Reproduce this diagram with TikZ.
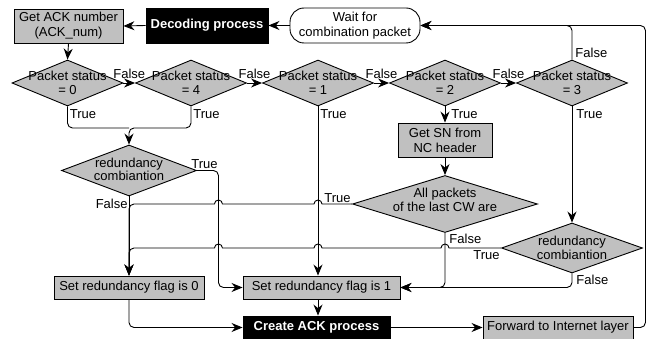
\documentclass[tikz,border=0pt]{standalone}
\usepackage{fontspec}
\setmainfont{Liberation Sans}
\usepackage{tikz}
\usetikzlibrary{arrows.meta}
\usetikzlibrary{positioning,calc}
\usetikzlibrary{shapes.geometric}
\definecolor{boxgray}{RGB}{192,192,192}
\tikzset{
    txt/.style={font=\fontsize{13}{15}\selectfont},
    proc/.style={
        draw,
        fill=boxgray,
        txt,
        align=center,
        inner sep=1pt
    },
    blk/.style={
        draw,
        fill=black,
        text=white,
        font=\fontsize{13}{15}\selectfont\bfseries,
        inner sep=1pt
    },
    term/.style={
        draw,
        rectangle,
        rounded corners=14pt,
        txt,
        align=center,
        inner sep=1pt
    },
    decision/.style={draw, diamond, fill=boxgray, inner sep=0pt},
    dtext/.style={font=\fontsize{13}{13.5}\selectfont, align=center, inner sep=0pt},
    lbl/.style={txt, inner sep=1pt},
    flow/.style={-{Stealth[length=11pt, width=9pt]}}
}

\begin{document}
\begin{tikzpicture}[x=1pt, y=-1pt, line width=0.9pt]
    \useasboundingbox (0,0) rectangle (648,339);
    % Top row
    \node[proc, minimum width=109pt, minimum height=34pt] (getack) at (68.5,26) {Get ACK number\\(ACK\_num)};
    \node[blk, minimum width=122pt, minimum height=35pt] (decode) at (207,25.5) {Decoding process};
    \node[term, minimum width=130pt, minimum height=35pt] (wait) at (355,25.5) {Wait for\\combination packet};

    % Packet status checks
    \node[decision, minimum width=111pt, minimum height=46pt,
        label={[dtext]center:Packet status\\= 0}] (d0) at (67.5,83) {};
    \node[decision, minimum width=111pt, minimum height=46pt,
        label={[dtext]center:Packet status\\= 4}] (d4) at (191,83) {};
    \node[decision, minimum width=111pt, minimum height=46pt,
        label={[dtext]center:Packet status\\= 1}] (d1) at (318,83) {};
    \node[decision, minimum width=111pt, minimum height=46pt,
        label={[dtext]center:Packet status\\= 2}] (d2) at (445,83) {};
    \node[decision, minimum width=111pt, minimum height=46pt,
        label={[dtext]center:Packet status\\= 3}] (d3) at (572,83) {};

    % Middle part
    \node[proc, minimum width=94pt, minimum height=34pt] (sn) at (445,140) {Get SN from\\NC header};
    \node[decision, minimum width=135pt, minimum height=51pt,
        label={[dtext, yshift=1pt]center:redundancy\\combiantion}] (r1) at (129,170.5) {};
    \node[decision, minimum width=185pt, minimum height=57pt,
        label={[dtext, yshift=4pt]center:All packets\\of the last CW are}] (ap) at (445,204) {};
    \node[decision, minimum width=141pt, minimum height=50pt,
        label={[dtext]center:redundancy\\combiantion}] (r2) at (572,248) {};

    % Bottom rows
    \node[proc, minimum width=150pt, minimum height=23pt] (flag0) at (129,287.5) {Set redundancy flag is 0};
    \node[proc, minimum width=157pt, minimum height=23pt] (flag1) at (321.5,287.5) {Set redundancy flag is 1};
    \node[blk, minimum width=147pt, minimum height=23pt] (ack) at (316.5,327.5) {Create ACK process};
    \node[proc, minimum width=150pt, minimum height=23pt] (fwd) at (558,327.5) {Forward to Internet layer};

    \coordinate (merge) at (129,128);
    \coordinate (rtrue) at ($(r1.east)+(21.5,0)$);

    % Top connectors
    \draw[flow] (wait.west) -- (decode.east);
    \draw[flow] (decode.west) -- (getack.east);
    \draw[flow] (getack.south) -- (d0.north);

    % False chain
    \draw[flow] (d0.east) -- node[lbl, above=3pt] {False} (d4.west);
    \draw[flow] (d4.east) -- node[lbl, above=3pt] {False} (d1.west);
    \draw[flow] (d1.east) -- node[lbl, above=3pt] {False} (d2.west);
    \draw[flow] (d2.east) -- node[lbl, above=3pt] {False} (d3.west);
    \draw[flow, rounded corners=5pt] (d3.north) node[lbl, anchor=south west, xshift=2pt] {False} |- (wait.east);
    \draw[flow, rounded corners=5pt] (fwd.east) -- ++(12,0) |- (wait.east);

    % True branches
    \draw[rounded corners=5pt] (d0.south) node[lbl, anchor=north west, xshift=1pt, yshift=-2pt] {True} |- (merge);
    \draw[flow, rounded corners=5pt] (d4.south) node[lbl, anchor=north west, xshift=1pt, yshift=-2pt] {True} |- (merge) -- (r1.north);
    \draw[flow] (d1.south) node[lbl, anchor=north west, xshift=1pt, yshift=-2pt] {True} -- (d1.south |- flag1.north);
    \draw[flow] (d2.south) node[lbl, anchor=north west, xshift=5pt, yshift=-2pt] {True} -- (sn.north);
    \draw[flow] (d3.south) node[lbl, anchor=north west, xshift=3pt, yshift=-2pt] {True} -- (r2.north);
    \draw[flow] (sn.south) -- (ap.north);

    % redundancy combination (left)
    \draw[flow, rounded corners=5pt] (r1.east) node[lbl, anchor=south west, xshift=-7pt] {True} -- (rtrue) |- (flag1.west);
    \draw[flow] (r1.south) node[lbl, anchor=north east, yshift=-1pt] {False} -- (flag0.north);

    % all packets check
    \draw[flow] (ap.west) node[lbl, anchor=south east] {True}
        -- ($(d1.south |- ap.west)+(4,0)$) arc[start angle=0, end angle=180, radius=4pt]
        -- ($(rtrue |- ap.west)+(4,0)$) arc[start angle=0, end angle=180, radius=4pt]
        -- ++(-6,0) [rounded corners=5pt] -- (flag0.north |- ap.west) -- (flag0.north);
    \draw[flow, rounded corners=5pt] (ap.south) node[lbl, anchor=north west, xshift=3pt] {False} |- (flag1.east);

    % redundancy combination (right)
    \draw[flow] (r2.west) node[lbl, anchor=north east, yshift=-1pt] {True}
        -- ($(ap.south |- r2.west)+(4,0)$) arc[start angle=0, end angle=180, radius=4pt]
        -- ($(d1.south |- r2.west)+(4,0)$) arc[start angle=0, end angle=180, radius=4pt]
        -- ($(rtrue |- r2.west)+(4,0)$) arc[start angle=0, end angle=180, radius=4pt]
        -- ++(-6,0) [rounded corners=5pt] -- (flag0.north |- r2.west) -- (flag0.north);
    \draw[flow, rounded corners=5pt] (r2.south) node[lbl, anchor=north west, xshift=3pt] {False} |- (flag1.east);

    % flags to ACK
    \draw[flow] (d1.south |- flag1.south) -- (d1.south |- ack.north);
    \draw[flow, rounded corners=5pt] (flag0.south) |- (ack.west);
    \draw[flow] (ack.east) -- (fwd.west);
\end{tikzpicture}
\end{document}
